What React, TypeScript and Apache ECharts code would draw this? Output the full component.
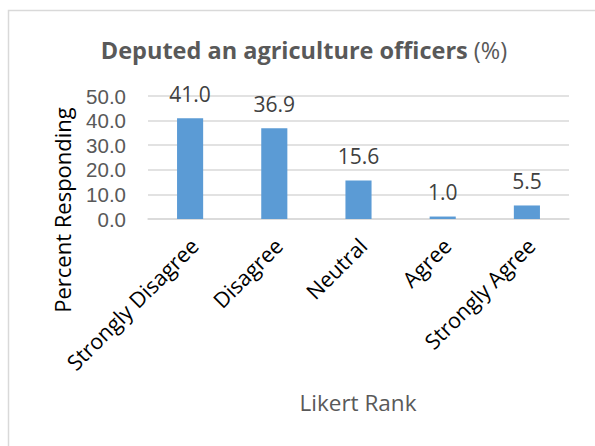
import React, { useEffect, useRef } from "react";
import * as echarts from "echarts";

const categories = ["Strongly Disagree", "Disagree", "Neutral", "Agree", "Strongly Agree"];
const values = [41.0, 36.9, 15.6, 1.0, 5.5];
const yTicks = [0, 10, 20, 30, 40, 50];
const titleBold = "Deputed an agriculture officers";
const titleNormal = "(%)";
const yName = "Percent Responding";
const xName = "Likert Rank";

const FONT = "'Open Sans', 'Noto Sans', sans-serif";
const TICK_FONT = "'Liberation Sans', 'Open Sans', sans-serif";

export default function App() {
  const ref = useRef<HTMLDivElement>(null);
  useEffect(() => {
    if (!ref.current) return;
    const chart = echarts.init(ref.current, null, { renderer: "svg" });
    chart.setOption({
      animation: false,
      backgroundColor: "#ffffff",
      textStyle: { fontFamily: FONT },
      grid: { left: 148, right: 26, top: 96, bottom: 227 },
      xAxis: {
        type: "category",
        data: categories,
        axisLine: { show: true, lineStyle: { color: "#d9d9d9", width: 1.5 } },
        axisTick: { show: false },
        axisLabel: {
          rotate: 45,
          interval: 0,
          margin: 27,
          fontSize: 21.5,
          color: "#000000",
          fontFamily: FONT,
          padding: [0, -6, 0, 0],
        },
      },
      yAxis: {
        type: "value",
        min: yTicks[0],
        max: yTicks[yTicks.length - 1],
        interval: 10,
        axisLine: { show: false },
        axisTick: { show: false },
        splitLine: { lineStyle: { color: "#d9d9d9", width: 1.5 } },
        axisLabel: {
          margin: 22,
          fontSize: 20.5,
          lineHeight: 20,
          color: "#595959",
          fontFamily: TICK_FONT,
          formatter: (v: number) => v.toFixed(1),
        },
      },
      series: [
        {
          type: "bar",
          data: values,
          barWidth: "31%",
          itemStyle: { color: "#5B9BD5" },
          label: {
            show: true,
            position: "top",
            distance: 14,
            fontSize: 21,
            color: "#404040",
            fontFamily: FONT,
            formatter: (p: any) => Number(p.value).toFixed(1),
          },
        },
      ],
      graphic: [
        {
          type: "rect",
          silent: true,
          z: -10,
          shape: { x: 8.5, y: 10.5, width: 620, height: 460 },
          style: { fill: "none", stroke: "#d9d9d9", lineWidth: 1.5 },
        },
        {
          type: "text",
          x: 304,
          y: 50,
          style: {
            text: `{b|${titleBold}}{n| ${titleNormal}}`,
            align: "center",
            verticalAlign: "middle",
            rich: {
              b: { fontSize: 23.5, fontWeight: "bold", fill: "#595959", fontFamily: FONT },
              n: { fontSize: 23.5, fontWeight: "normal", fill: "#595959", fontFamily: FONT },
            },
          },
        },
        {
          type: "text",
          x: 62,
          y: 210,
          rotation: Math.PI / 2,
          style: {
            text: yName,
            align: "center",
            verticalAlign: "middle",
            fontSize: 22,
            fill: "#000000",
            fontFamily: FONT,
          },
        },
        {
          type: "text",
          x: 358,
          y: 402,
          style: {
            text: xName,
            align: "center",
            verticalAlign: "middle",
            fontSize: 22.5,
            fill: "#595959",
            fontFamily: FONT,
          },
        },
      ],
    });
    return () => chart.dispose();
  }, []);
  return (
    <div
      ref={ref}
      style={{ position: "fixed", left: 0, top: 0, width: 595, height: 446 }}
    />
  );
}
